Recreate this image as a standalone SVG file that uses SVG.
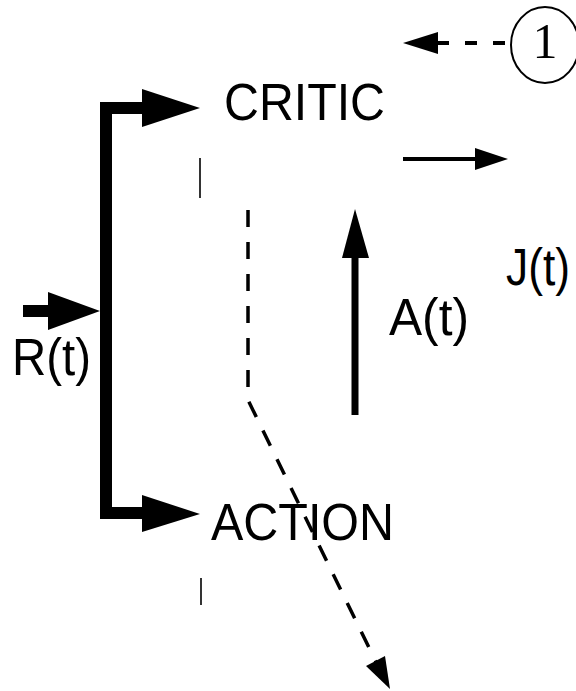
<svg xmlns="http://www.w3.org/2000/svg" width="576" height="691" viewBox="0 0 576 691">
<style>
.lbl{font-family:"Liberation Sans",Arial,sans-serif;font-size:51px;fill:#000}
.num{font-family:"Liberation Serif","Times New Roman",serif;font-size:50px;fill:#000}
.thick{stroke:#000;stroke-width:12;fill:none}
.tick{stroke:#000;stroke-width:1.6}
.dash{stroke:#000;stroke-width:3.5;fill:none;stroke-dasharray:17 15}
</style>
<rect width="576" height="691" fill="#fff"/>
<g id="critic"><text class="lbl" x="224" y="120" textLength="161" lengthAdjust="spacingAndGlyphs">CRITIC</text><line class="tick" x1="200" y1="158" x2="200" y2="198"/></g>
<g id="action"><text class="lbl" x="211" y="540" textLength="183" lengthAdjust="spacingAndGlyphs">ACTION</text><line class="tick" x1="201" y1="578" x2="201" y2="605"/></g>
<g id="one"><ellipse cx="545" cy="45" rx="34" ry="38" fill="#fff" stroke="#000" stroke-width="2"/><text class="num" x="545" y="58" text-anchor="middle">1</text></g>
<g id="rt"><text class="lbl" x="12" y="375" textLength="79" lengthAdjust="spacingAndGlyphs">R(t)</text></g>
<g id="at"><text class="lbl" x="389" y="335" textLength="80" lengthAdjust="spacingAndGlyphs">A(t)</text></g>
<g id="jt"><text class="lbl" x="506" y="285" textLength="64" lengthAdjust="spacingAndGlyphs">J(t)</text></g>
<g id="connectors">
<path class="thick" d="M142,108 H106 V513 H142"/>
<polygon points="142,89 142,127 200,108"/>
<polygon points="142,495 142,532 200,514"/>
<line x1="23" y1="311" x2="50" y2="311" stroke="#000" stroke-width="12"/>
<polygon points="48,292 48,330 100,311"/>
<line x1="355" y1="415" x2="355" y2="256" stroke="#000" stroke-width="7"/>
<polygon points="342,258 369,258 355,209"/>
<line x1="403" y1="159" x2="477" y2="159" stroke="#000" stroke-width="4"/>
<polygon points="475,148 475,170 508,159"/>
<line x1="437" y1="43" x2="511" y2="43" stroke="#000" stroke-width="4" stroke-dasharray="12 16"/>
<polygon points="438,32 438,54 403,43"/>
<path class="dash" d="M248,210 V400 L376,662"/>
<polygon points="366,666 385,656 390,689"/>
</g>
</svg>
